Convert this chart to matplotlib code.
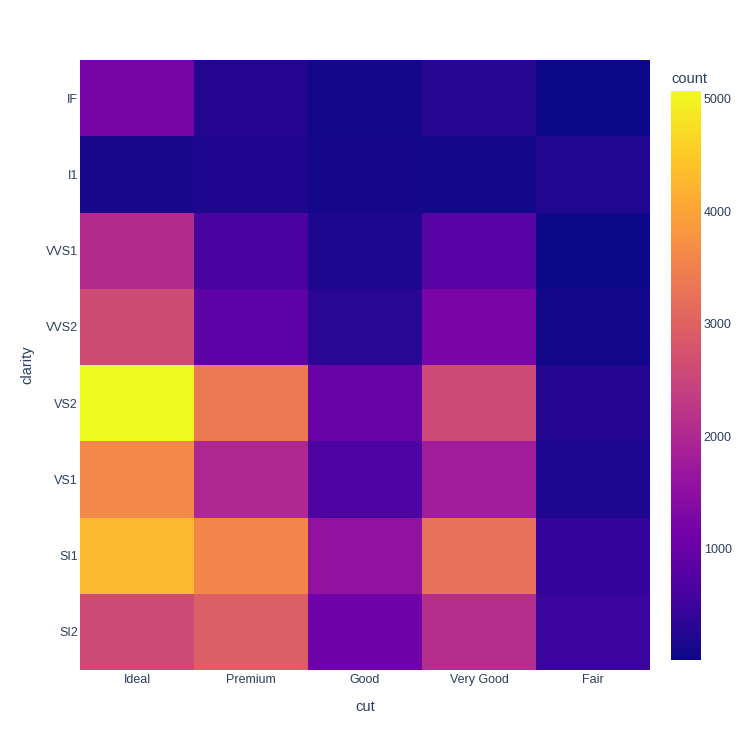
import matplotlib
matplotlib.use('Agg')
import matplotlib.pyplot as plt
from matplotlib.colors import LinearSegmentedColormap
import numpy as np

# diamonds: count per cut x clarity
cuts = ["Ideal", "Premium", "Good", "Very Good", "Fair"]
clarities = ["SI2", "SI1", "VS1", "VS2", "VVS2", "VVS1", "I1", "IF"]  # bottom -> top

counts = {
    "SI2":  [2598, 2949, 1081, 2100, 466],
    "SI1":  [4282, 3575, 1560, 3240, 408],
    "VS1":  [3589, 1989, 648, 1775, 170],
    "VS2":  [5071, 3357, 978, 2591, 261],
    "VVS2": [2606, 870, 286, 1235, 69],
    "VVS1": [2047, 616, 186, 789, 17],
    "I1":   [146, 205, 96, 84, 210],
    "IF":   [1212, 230, 71, 268, 9],
}
cbar_ticks = [1000, 2000, 3000, 4000, 5000]

plasma_stops = ['#0d0887', '#46039f', '#7201a8', '#9c179e', '#bd3786',
                '#d8576b', '#ed7953', '#fb9f3a', '#fdca26', '#f0f921']
cmap = LinearSegmentedColormap.from_list("plotly_plasma", plasma_stops)

plt.rcParams['font.family'] = ['Liberation Sans', 'DejaVu Sans']
txt = '#2a3f5f'

z = np.array([counts[c] for c in clarities])
vmin, vmax = z.min(), z.max()

fig = plt.figure(figsize=(7.5, 7.5), dpi=100)
ax = fig.add_axes([80 / 750, 80 / 750, 570 / 750, 610 / 750])
mesh = ax.pcolormesh(np.arange(len(cuts) + 1), np.arange(len(clarities) + 1), z,
                     cmap=cmap, vmin=vmin, vmax=vmax)
ax.set_xticks(np.arange(len(cuts)) + 0.5)
ax.set_xticklabels(cuts)
ax.set_yticks(np.arange(len(clarities)) + 0.5)
ax.set_yticklabels(clarities)
ax.tick_params(length=0, labelsize=9, colors=txt, pad=3)
ax.tick_params(axis='y', pad=1.5)
for s in ax.spines.values():
    s.set_visible(False)
ax.set_xlabel("cut", fontsize=10.5, color=txt, labelpad=10)
ax.set_ylabel("clarity", fontsize=10.5, color=txt, labelpad=8)

cax = fig.add_axes([671 / 750, 90 / 750, 30 / 750, 569 / 750])
cb = fig.colorbar(mesh, cax=cax, ticks=cbar_ticks)
cb.outline.set_visible(False)
cax.tick_params(length=0, labelsize=9, colors=txt, pad=2)
fig.text(671 / 750, 1 - 79 / 750, "count", fontsize=10.5, color=txt, va='center', ha='left')

fig.savefig("out.png")
